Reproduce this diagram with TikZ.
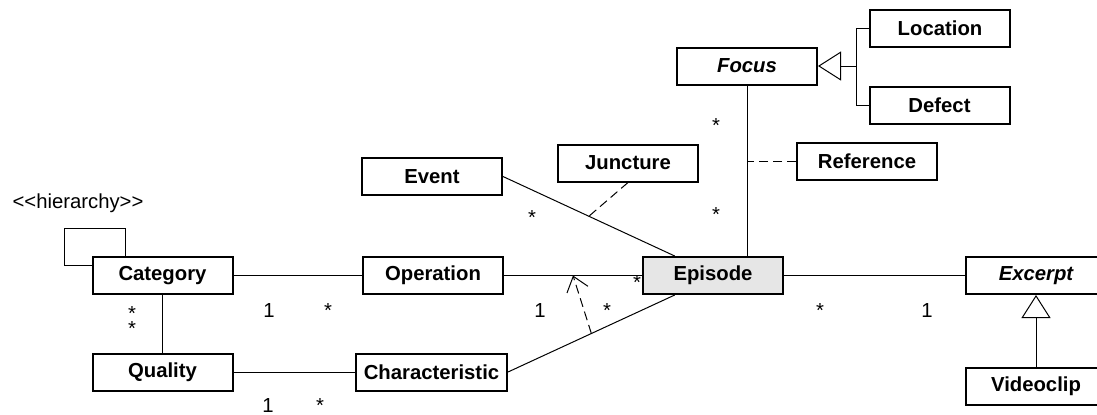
\documentclass[tikz,border=0pt]{standalone}
\usepackage{fontspec}
\setmainfont{Liberation Sans}
\usepackage{tikz}
\usetikzlibrary{arrows.meta,calc}
\usepackage{xcolor}
\definecolor{umlgray}{RGB}{230,230,230}
\tikzstyle{classbox} = [rectangle, minimum width=70pt, minimum height=18.5pt, inner sep=0pt, text centered, draw=black, fill=white, line width=1pt, font=\fontsize{10.15}{12}\selectfont\bfseries]
\tikzstyle{abstractbox} = [classbox, font=\fontsize{10.15}{12}\selectfont\bfseries\itshape]
\tikzstyle{assoc} = [line width=0.5pt]
\tikzstyle{depline} = [line width=0.5pt, dash pattern=on 4.5pt off 2.5pt]
\tikzstyle{dependarrow} = [depline, -{Straight Barb[length=7pt,width=11pt]}]
\tikzstyle{generalize} = [line width=0.5pt, -{Triangle[open,length=11.5pt,width=14.5pt]}]
\tikzstyle{mult} = [anchor=base, inner sep=0pt, font=\fontsize{10.15}{12}\selectfont]

\begin{document}
\begin{tikzpicture}[x=0.5pt, y=-0.5pt]
\useasboundingbox (0,0) rectangle (1097,414);
\clip (0,0) rectangle (1097,414);
% Classes
\node[classbox] (category) at (162.5,275.5) {Category};
\node[classbox] (quality) at (162.5,372) {Quality};
\node[classbox] (event) at (432,176.5) {Event};
\node[classbox] (juncture) at (628,163) {Juncture};
\node[classbox] (operation) at (433,275.5) {Operation};
\node[classbox, minimum width=75.5pt] (characteristic) at (431.5,372) {Characteristic};
\node[classbox, fill=umlgray] (episode) at (713,275.5) {Episode};
\node[abstractbox] (focus) at (747,66) {Focus};
\node[classbox] (location) at (940,28) {Location};
\node[classbox] (defect) at (939.5,105.5) {Defect};
\node[classbox] (reference) at (867,161) {Reference};
\node[abstractbox] (excerpt) at (1036,275.5) {Excerpt};
\node[classbox] (videoclip) at (1036,386) {Videoclip};

% Associations
\draw[assoc] (category) -- (operation);
\draw[assoc] (operation) -- coordinate (opep) (episode);
\draw[assoc] (category) -- (quality);
\draw[assoc] (quality) -- (characteristic);
\draw[assoc] (event.east) -- coordinate (evep) (episode.153);
\draw[assoc] (characteristic.east) -- coordinate (chep) (episode.207);
\draw[assoc] (episode) -- (excerpt);
\draw[assoc] (focus.south) -- (focus.south |- episode.north);
\draw[assoc] (category.172) -| ++(-27,-37) -| (category.152);

% Association classes
\draw[depline] (juncture.south) -- (evep);
\draw[depline] (reference.west) -- (reference.west -| focus.south);
\draw[dependarrow] (chep) -- (opep);

% Generalizations
\coordinate (focusjoin) at (856,66);
\draw[assoc] (location.west) -| (focusjoin) |- (defect.west);
\draw[generalize] (focusjoin) -- (focus.east);
\draw[generalize] (videoclip) -- (excerpt);

% Stereotype and multiplicities
\node[mult] (stereo) at (78,208) {<{}<hierarchy>{}>};
\node[mult, anchor=center, align=center, font=\fontsize{10.15}{7.5}\selectfont] (catstars) at (132,321.5) {*\\*};
\node[mult] (catone) at (269,317) {1};
\node[mult] (opstar) at (328,317) {*};
\node[mult] (evstar) at (532,224) {*};
\node[mult] (opone) at (540,317) {1};
\node[mult] (chstar) at (607,317) {*};
\node[mult] (epstar) at (637,289) {*};
\node[mult] (fostar) at (716,132) {*};
\node[mult] (epfostar) at (716,221) {*};
\node[mult] (exstar) at (820,317) {*};
\node[mult] (exone) at (927,317) {1};
\node[mult] (quone) at (268,412) {1};
\node[mult] (chqstar) at (320,412) {*};
\end{tikzpicture}
\end{document}
